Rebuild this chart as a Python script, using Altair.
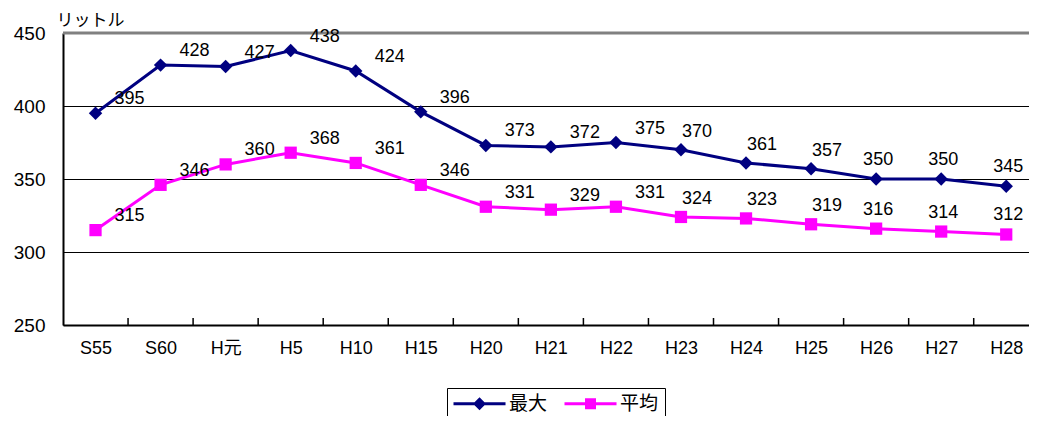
import json
import altair as alt
import pandas as pd

categories = ["S55", "S60", "H元", "H5", "H10", "H15", "H20", "H21", "H22",
              "H23", "H24", "H25", "H26", "H27", "H28"]
max_vals = [395, 428, 427, 438, 424, 396, 373, 372, 375, 370, 361, 357, 350, 350, 345]
avg_vals = [315, 346, 360, 368, 361, 346, 331, 329, 331, 324, 323, 319, 316, 314, 312]
series_names = ["最大", "平均"]
series_colors = ["#000080", "#FF00FF"]
y_ticks = [250, 300, 350, 400, 450]

rows = []
for i, c in enumerate(categories):
    rows.append({"idx": i, "cat": c, "series": series_names[0], "value": max_vals[i]})
    rows.append({"idx": i, "cat": c, "series": series_names[1], "value": avg_vals[i]})
df = pd.DataFrame(rows)

FONT = "Liberation Sans, Noto Sans CJK JP"
W, H = 966, 292

label_expr = json.dumps(categories, ensure_ascii=False) + "[datum.value]"

x_enc = alt.X("idx:Q",
              scale=alt.Scale(domain=[-0.5, 14.35], nice=False, zero=False),
              axis=alt.Axis(values=list(range(len(categories))), labelExpr=label_expr,
                            grid=False, ticks=False, domainColor="black", domainWidth=2,
                            labelFontSize=18, labelPadding=14, labelColor="black",
                            labelFont=FONT, title=None))
y_enc = alt.Y("value:Q",
              scale=alt.Scale(domain=[250, 450], nice=False, zero=False),
              axis=alt.Axis(values=y_ticks, grid=True, gridColor="black", gridWidth=1,
                            ticks=False, domainColor="black", domainWidth=2,
                            labelFontSize=19, labelPadding=18, labelColor="black",
                            labelFont=FONT, title="リットル", titleAngle=0,
                            titleAlign="left", titleBaseline="alphabetic",
                            titleX=-7, titleY=-8, titleFontSize=17,
                            titleFontWeight="normal", titleFont=FONT,
                            titleColor="black"))

color_scale = alt.Scale(domain=series_names, range=series_colors)
col_nolegend = alt.Color("series:N", scale=color_scale, legend=None)

# legend symbols: a line segment with the series marker on it
path_d = "M-1,-0.17H4.78V0.17H-1Z M1.89,-0.72L2.61,0L1.89,0.72L1.17,0Z"
path_s = "M1.28,-0.61H2.5V0.61H1.28Z M-1,-0.17H4.78V0.17H-1Z"

leg = alt.Legend(title=None, orient="none", legendX=384, legendY=355,
                 direction="horizontal", symbolSize=324, symbolOpacity=1,
                 symbolStrokeWidth=0, strokeColor="black", fillColor="white",
                 padding=6, labelFontSize=19, labelFont=FONT, labelColor="black",
                 labelOffset=37, columnPadding=16)

base = alt.Chart(df)

lines = base.mark_line(strokeWidth=3).encode(
    x=x_enc, y=y_enc,
    color=alt.Color("series:N", scale=color_scale, legend=leg),
    detail="series:N")

diamonds = base.transform_filter(alt.datum.series == series_names[0]).mark_point(
    shape="diamond", filled=True, size=180, opacity=1).encode(
    x="idx:Q", y="value:Q", color=col_nolegend)

squares = base.transform_filter(alt.datum.series == series_names[1]).mark_square(
    size=150, opacity=1).encode(x="idx:Q", y="value:Q", color=col_nolegend)

top_rule = alt.Chart(pd.DataFrame({"v": [450]})).mark_rule(
    color="#808080", strokeWidth=3).encode(y="v:Q")

ticks = base.transform_filter(
    (alt.datum.series == series_names[0]) & (alt.datum.idx < len(categories) - 1)
).transform_calculate(b="datum.idx + 0.5").mark_rule(
    color="black", strokeWidth=1.5).encode(x="b:Q", y=alt.value(H - 7), y2=alt.value(H))


def labels(cond, dx, dy):
    return base.transform_filter(cond).mark_text(
        fontSize=18, font=FONT, color="black", dx=dx, dy=dy, align="center",
        baseline="middle").encode(x="idx:Q", y="value:Q", text="value:Q")


lab1 = labels(alt.datum.idx <= 8, 34, -14)
lab2 = labels((alt.datum.idx >= 9) & (alt.datum.idx <= 11), 16, -18)
lab3 = labels(alt.datum.idx >= 12, 2, -19)

legend_layer = base.transform_filter(alt.datum.idx == 0).mark_point(
    filled=True, clip=True, opacity=1).encode(
    x="idx:Q", y=alt.value(-80),
    fill=alt.Fill("series:N", scale=alt.Scale(domain=series_names, range=series_colors),
                  legend=leg),
    shape=alt.Shape("series:N", scale=alt.Scale(domain=series_names, range=[path_d, path_s]),
                    legend=leg))

chart = alt.layer(top_rule, ticks, lines, diamonds, squares, lab1, lab2, lab3,
                  legend_layer).properties(
    width=W, height=H,
    autosize=alt.AutoSizeParams(type="none"),
    padding={"left": 55, "top": 25, "right": 0, "bottom": 91},
    background="white",
).configure_view(stroke=None)

chart.save("out.html", embed_options={"renderer": "svg", "actions": False})
